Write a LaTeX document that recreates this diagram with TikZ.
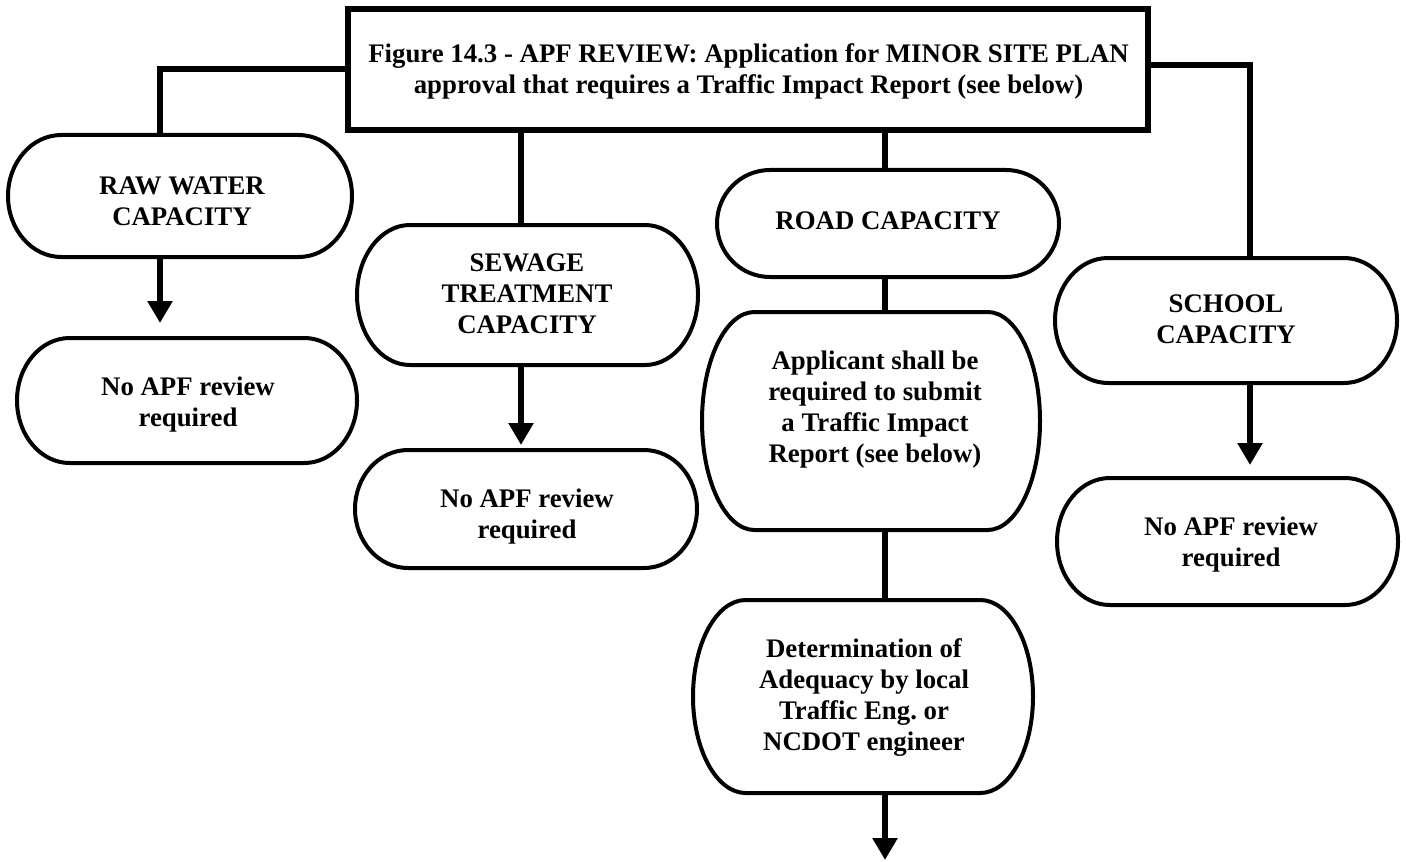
\documentclass[tikz,border=0pt]{standalone}
\usepackage{fontspec}
\setmainfont{Liberation Serif}
\usetikzlibrary{arrows.meta,calc}
\frenchspacing
\newcommand\termbox[2][0.155]{%
  \draw[termline] let \p1=(#2.north west), \p2=(#2.south east),
    \n1={#1*(\x2-\x1)}, \n2={(\y1-\y2)/2} in
    ({\x1+\n1*1pt},\y1) -- ({\x2-\n1*1pt},\y1)
    arc[start angle=90,end angle=-90,x radius={\n1*1pt},y radius={\n2*1pt}]
    -- ({\x1+\n1*1pt},\y2)
    arc[start angle=270,end angle=90,x radius={\n1*1pt},y radius={\n2*1pt}] -- cycle;}
\tikzset{
  box/.style n args={2}{minimum width=#1, minimum height=#2, inner sep=0pt, outer sep=0pt},
  termline/.style={line width=2pt, line join=round},
  mainbox/.style={draw, line width=3pt, inner sep=0pt, outer sep=0pt},
  txt/.style={font=\bfseries\fontsize{13.4}{15.5}\selectfont, align=center, inner sep=0pt},
  conn/.style={line width=3.2pt, line join=miter},
  arr/.style={line width=3.2pt, -{Triangle[width=12pt,length=11pt]}},
}
\begin{document}
\begin{tikzpicture}[x=0.5pt,y=-0.5pt]
\useasboundingbox (0,0) rectangle (1406,861);
% main box
\node[mainbox, box={400pt}{60.5pt}] (main) at (747.5,70) {};
\node[txt] (maint) at (748.5,71) {Figure 14.3 - APF REVIEW: Application for MINOR SITE PLAN\\approval that requires a Traffic Impact Report (see below)};
% terminator boxes
\node[box={172pt}{61pt}] (raw) at (180,196) {};
\node[txt] (rawt) at (182,201) {RAW WATER\\CAPACITY};
\node[box={170pt}{62.5pt}] (noapfa) at (187,400.5) {};
\node[txt] (noapfat) at (188,405) {No APF review\\required};
\node[box={170.5pt}{70pt}] (sewage) at (527.5,295) {};
\node[txt] (sewaget) at (527,294) {SEWAGE\\TREATMENT\\CAPACITY};
\node[box={171pt}{59pt}] (noapfb) at (526,509) {};
\node[txt] (noapfbt) at (527,517) {No APF review\\required};
\node[box={171pt}{53.5pt}] (road) at (888,223.5) {};
\node[txt] (roadt) at (888,221) {ROAD CAPACITY};
\node[box={169pt}{109pt}] (app) at (871,421) {};
\node[txt] (appt) at (875,410) {Applicant shall be\\required to submit\\a Traffic Impact\\Report (see below)};
\node[box={170pt}{96.5pt}] (det) at (863,696.5) {};
\node[txt] (dett) at (864,698) {Determination of\\Adequacy by local\\Traffic Eng.\ or\\NCDOT engineer};
\node[box={171pt}{62.5pt}] (school) at (1226,320.5) {};
\node[txt] (schoolt) at (1226,319) {SCHOOL\\CAPACITY};
\node[box={170.5pt}{63.5pt}] (noapfc) at (1227.5,541.5) {};
\node[txt] (noapfct) at (1231,545) {No APF review\\required};
\foreach \nm in {raw,noapfa,sewage,noapfb,road,app,det,school,noapfc} {\termbox{\nm}}
% connector coordinates
\coordinate (xl) at (160,69);
\coordinate (xr) at (1250,65);
\coordinate (xs) at (521,0);
\coordinate (xroad) at (885,0);
\coordinate (endpt) at (885,860);
% connectors
\draw[conn] (main.west |- xl) -| (xl |- raw.north);
\draw[conn] (main.east |- xr) -| (xr |- school.north);
\draw[conn] (xs |- main.south) -- (xs |- sewage.north);
\draw[conn] (xroad |- main.south) -- (xroad |- road.north);
\draw[conn] (xroad |- road.south) -- (xroad |- app.north);
\draw[conn] (xroad |- app.south) -- (xroad |- det.north);
\draw[arr] (xroad |- det.south) -- (endpt);
\draw[arr] (xl |- raw.south) -- ($(xl |- noapfa.north)+(0,-15)$);
\draw[arr] (xs |- sewage.south) -- ($(xs |- noapfb.north)+(0,-5)$);
\draw[arr] (xr |- school.south) -- ($(xr |- noapfc.north)+(0,-13)$);
\end{tikzpicture}
\end{document}
